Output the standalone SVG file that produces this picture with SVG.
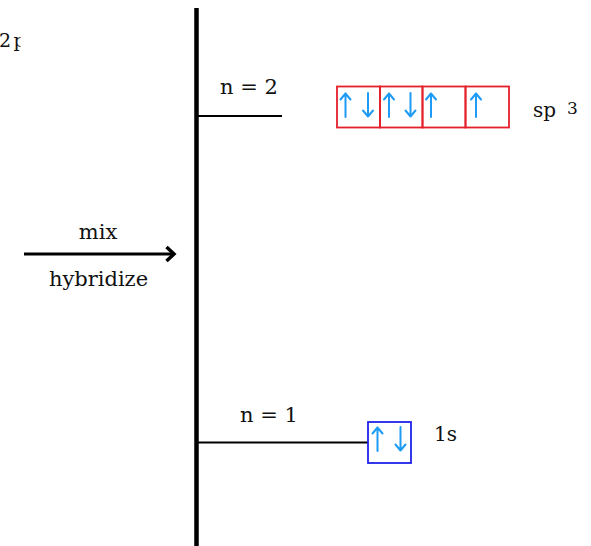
<svg xmlns="http://www.w3.org/2000/svg" width="591" height="546" viewBox="0 0 591 546">
  <style>
    .lbl { font-family: "DejaVu Serif", "Liberation Serif", serif; font-size: 21px; fill: #111; }
    .axis { stroke: #000; stroke-width: 4.5; fill: none; }
    .level { stroke: #000; stroke-width: 1.8; fill: none; }
    .sp3box { fill: none; stroke: #e4202a; stroke-width: 1.8; }
    .sbox { fill: none; stroke: #1f23e8; stroke-width: 1.8; }
    .spin { fill: none; stroke: #1e9bf5; stroke-width: 2; stroke-linecap: round; stroke-linejoin: round; }
    .mixarrow { stroke: #000; stroke-width: 3; fill: none; }
  </style>
  <defs>
    <clipPath id="leftEdge">
      <rect x="0" y="20" width="20.5" height="40"/>
    </clipPath>
    <!-- electron spin arrows, origin at arrow centre -->
    <g id="spinUp"><path class="spin" d="M0,12 V-11.5 M-5,-5.5 L0,-11.5 L5,-5.5"/></g>
    <g id="spinDown"><path class="spin" d="M0,-12 V11.5 M-5,5.5 L0,11.5 L5,5.5"/></g>
  </defs>
  <rect width="591" height="546" fill="#fff"/>

  <!-- partially visible label at the left edge -->
  <g id="label-2p" clip-path="url(#leftEdge)">
    <text class="lbl" x="-1" y="47" style="font-size:19px">2<tspan x="13.5">p</tspan></text>
  </g>

  <g id="connectors">
    <line class="axis" x1="196.5" y1="8" x2="196.5" y2="546"/>
    <line class="level" x1="196" y1="116" x2="282" y2="116"/>
    <line class="level" x1="196" y1="442.5" x2="368" y2="442.5"/>
    <line class="mixarrow" x1="24" y1="254" x2="174" y2="254"/>
    <polyline class="mixarrow" points="166.5,247 174,254 166.5,261" style="stroke-width:3.5"/>
  </g>

  <g id="mix-label">
    <text class="lbl" x="98" y="239" text-anchor="middle">mix</text>
    <text class="lbl" x="98.5" y="286" text-anchor="middle">hybridize</text>
  </g>

  <g id="level-n2">
    <text class="lbl" x="249" y="94" text-anchor="middle">n = 2</text>
  </g>

  <g id="level-n1">
    <text class="lbl" x="269" y="422" text-anchor="middle">n = 1</text>
  </g>

  <g id="sp3-orbitals">
    <rect class="sp3box" x="337" y="86.5" width="43" height="41"/>
    <rect class="sp3box" x="380" y="86.5" width="42.5" height="41"/>
    <rect class="sp3box" x="422.5" y="86.5" width="43" height="41"/>
    <rect class="sp3box" x="465.5" y="86.5" width="43.5" height="41"/>
    <use href="#spinUp" x="345.5" y="105"/>
    <use href="#spinDown" x="368" y="105"/>
    <use href="#spinUp" x="389" y="105"/>
    <use href="#spinDown" x="410.5" y="105"/>
    <use href="#spinUp" x="431" y="105"/>
    <use href="#spinUp" x="476" y="105"/>
    <text class="lbl" x="533" y="117" style="font-size:20px">sp</text>
    <text class="lbl" x="567" y="114" style="font-size:17px">3</text>
  </g>

  <g id="s1-orbital">
    <rect class="sbox" x="368" y="422" width="43" height="41"/>
    <use href="#spinUp" x="377.5" y="439"/>
    <use href="#spinDown" x="400.5" y="439"/>
    <text class="lbl" x="434" y="441" style="font-size:20px">1s</text>
  </g>
</svg>
